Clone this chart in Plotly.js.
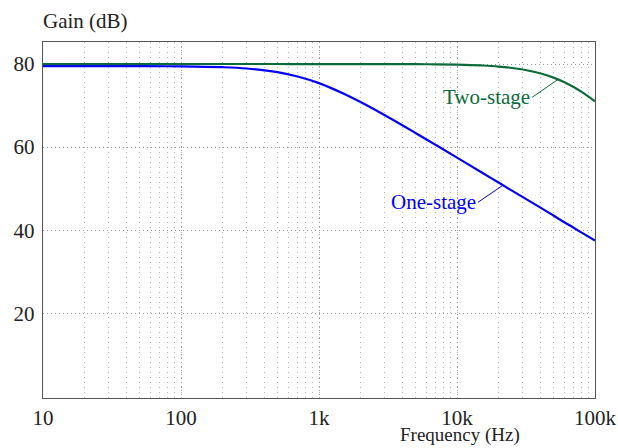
<!DOCTYPE html>
<html>
<head>
<meta charset="utf-8">
<script src="https://cdn.plot.ly/plotly-3.0.1.min.js"></script>
<style>html,body{margin:0;padding:0;background:#fff;}#chart{width:618px;height:448px;}</style>
</head>
<body>
<div id="chart"></div>
<script>
// Frequencies (Hz)
var freq = [10, 20, 50, 100, 200, 300, 500, 700, 1000, 1500, 2000, 3000, 5000, 7000, 10000, 15000, 20000, 30000, 40000, 50000, 60000, 70000, 80000, 100000];
// One-stage gain (dB)
var oneStage = [79.5, 79.5, 79.48, 79.43, 79.23, 78.92, 78.05, 77.0, 75.4, 72.9, 70.84, 67.66, 63.41, 60.54, 57.47, 53.96, 51.47, 47.95, 45.5, 43.52, 41.9, 40.59, 39.4, 37.5];
// Two-stage gain (dB)
var twoStage = [80.0, 80.0, 80.0, 80.0, 80.0, 80.0, 80.0, 79.99, 79.99, 79.99, 79.99, 79.98, 79.96, 79.92, 79.84, 79.65, 79.39, 78.68, 77.77, 76.73, 75.61, 74.45, 73.28, 71.0];
var xTickVals = [10, 100, 1000, 10000, 100000];
var xTickText = ['10', '100', '1k', '10k', '100k'];
var yTickVals = [20, 40, 60, 80];
var seriesNames = ['One-stage', 'Two-stage'];
// label anchor points on curves (frequency, gain)
var oneLabelPt = [21500, 50.8];
var twoLabelPt = [54000, 76.3];

var blue = '#0000ff';
var green = '#0b6b3a';
var font = '"Liberation Serif", "Times New Roman", serif';

var traces = [
  {x: freq, y: oneStage, name: seriesNames[0], mode: 'lines', line: {color: blue, width: 2.2, shape: 'spline'}},
  {x: freq, y: twoStage, name: seriesNames[1], mode: 'lines', line: {color: green, width: 2.2, shape: 'spline'}}
];

var layout = {
  width: 618, height: 448,
  margin: {l: 43, r: 23, t: 42, b: 50},
  showlegend: false,
  paper_bgcolor: '#fff', plot_bgcolor: '#fff',
  font: {family: font, size: 21, color: '#222'},
  xaxis: {
    type: 'log', range: [1, 5],
    tickvals: xTickVals, ticktext: xTickText,
    showgrid: true, gridcolor: '#999', griddash: '1px,3px', gridwidth: 1,
    minor: {dtick: 'D1', showgrid: true, gridcolor: '#b0b0b0', griddash: '1px,4px', gridwidth: 1},
    showline: true, linecolor: '#555', linewidth: 1.3, mirror: true,
    ticks: '', zeroline: false, ticklabelstandoff: 0,
    tickfont: {family: font, size: 21, color: '#222'}
  },
  yaxis: {
    range: [-0.4, 85.3],
    tickvals: yTickVals,
    showgrid: true, gridcolor: '#999', griddash: '1px,3px', gridwidth: 1,
    showline: true, linecolor: '#555', linewidth: 1.3, mirror: true,
    ticks: '', zeroline: false, ticklabelstandoff: 3,
    tickfont: {family: font, size: 21, color: '#222'}
  },
  annotations: [
    {x: Math.log10(oneLabelPt[0]), y: oneLabelPt[1], xref: 'x', yref: 'y', text: seriesNames[0],
     showarrow: true, arrowhead: 0, arrowwidth: 1, arrowcolor: blue, ax: -25, ay: 17,
     xanchor: 'right', yanchor: 'middle', font: {family: font, size: 21, color: blue}},
    {x: Math.log10(twoLabelPt[0]), y: twoLabelPt[1], xref: 'x', yref: 'y', text: seriesNames[1],
     showarrow: true, arrowhead: 0, arrowwidth: 1, arrowcolor: green, ax: -26, ay: 18,
     xanchor: 'right', yanchor: 'middle', font: {family: font, size: 21, color: green}},
    {x: 0, y: 1, xref: 'paper', yref: 'paper', text: 'Gain (dB)', showarrow: false,
     xanchor: 'left', yanchor: 'middle', yshift: 21, xshift: -2, font: {family: font, size: 21, color: '#222'}},
    {x: 0.755, y: 0, xref: 'paper', yref: 'paper', text: 'Frequency (Hz)', showarrow: false,
     xanchor: 'center', yanchor: 'bottom', yshift: -50, font: {family: font, size: 19, color: '#222'}}
  ]
};

Plotly.newPlot('chart', traces, layout, {staticPlot: true, displayModeBar: false});
</script>
</body>
</html>
